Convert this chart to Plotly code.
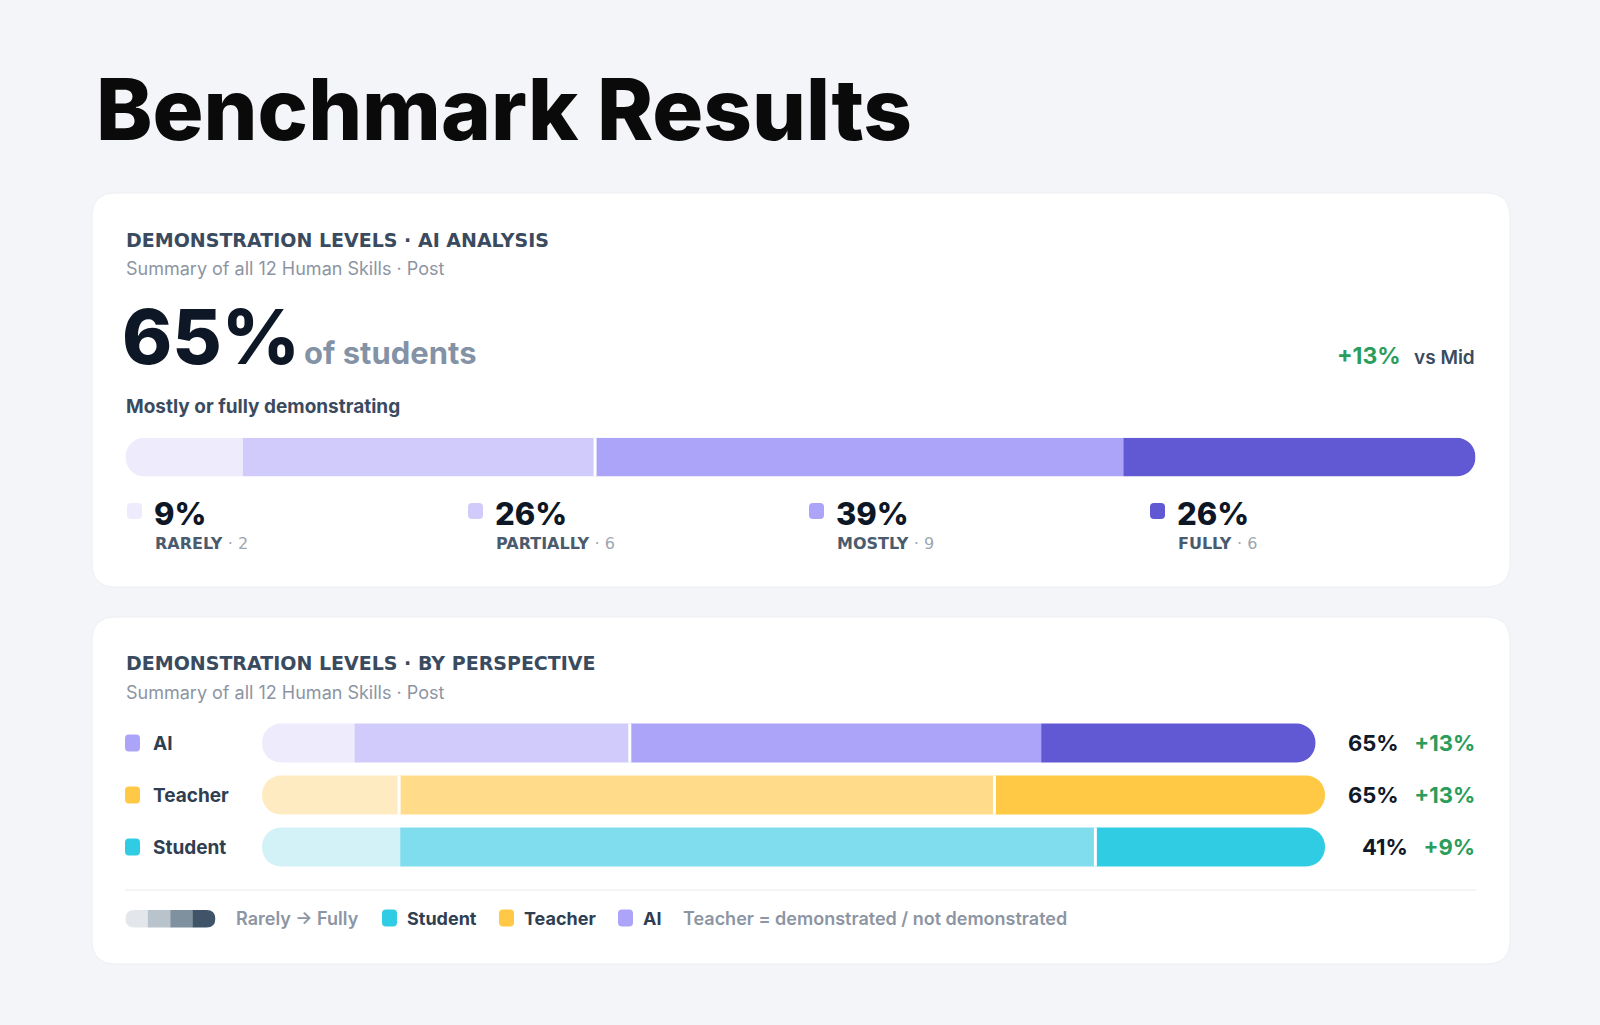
import plotly.graph_objects as go

W, H = 1600, 1025

# ---- data ----
levels = ["Rarely", "Partially", "Mostly", "Fully"]
ai_counts = [2, 6, 9, 6]            # skills per level, AI analysis, post
headline_pct = 65                   # mostly or fully demonstrating
delta_vs_mid = 13

perspectives = ["AI", "Teacher", "Student"]
ai_shares = [8.7, 25.9, 38.7, 25.8]
teacher_shares = [12.9, 56.0, 31.1]
student_shares = [13.0, 65.4, 21.6]
perspective_pct = [65, 65, 41]
perspective_delta = [13, 13, 9]

# ---- style ----
BG = "#F4F5F8"
INK = "#0E1726"
SLATE = "#3A4B5F"
GREY = "#8C95A3"
GREEN = "#2A9D5C"
FONT = "Inter"
CAPS = "DejaVu Sans"   # wide face stands in for the tracked caps

purple = ["#EEEBFD", "#D1CBFC", "#ABA4F9", "#6158D4"]
yellow = ["#FFEBC1", "#FFDB8A", "#FFC845"]
cyan = ["#D3F2F8", "#80DDEE", "#2FCCE3"]
row_colors = [purple, yellow, cyan]
row_swatch = ["#ABA4F9", "#FFC845", "#2FCCE3"]
row_gaps = [[1], [0, 1], [1]]       # white split after these segments


def X(x):
    return x / W


def Y(y):
    return 1 - y / H


def rounded_path(x0, y0, x1, y1, r, left=True, right=True):
    """Rounded rectangle in pixel coords -> svg path in paper coords."""
    rl = r if left else 0
    rr = r if right else 0
    pts = [
        f"M{X(x0 + rl)},{Y(y0)}",
        f"L{X(x1 - rr)},{Y(y0)}",
        f"Q{X(x1)},{Y(y0)} {X(x1)},{Y(y0 + rr)}",
        f"L{X(x1)},{Y(y1 - rr)}",
        f"Q{X(x1)},{Y(y1)} {X(x1 - rr)},{Y(y1)}",
        f"L{X(x0 + rl)},{Y(y1)}",
        f"Q{X(x0)},{Y(y1)} {X(x0)},{Y(y1 - rl)}",
        f"L{X(x0)},{Y(y0 + rl)}",
        f"Q{X(x0)},{Y(y0)} {X(x0 + rl)},{Y(y0)}",
        "Z",
    ]
    return " ".join(pts)


fig = go.Figure()


def add_box(x0, y0, x1, y1, r, fill, line=None, left=True, right=True):
    fig.add_shape(type="path", path=rounded_path(x0, y0, x1, y1, r, left, right),
                  xref="paper", yref="paper", layer="below", fillcolor=fill,
                  line=dict(color=line or fill, width=1 if line else 0))


def label(x, y, text, size, color, weight=400, anchor="left", family=FONT):
    fig.add_annotation(x=X(x), y=Y(y), xref="paper", yref="paper", text=text,
                       showarrow=False, xanchor=anchor, yanchor="middle", borderpad=0,
                       font=dict(family=family, size=size, color=color, weight=weight))


def add_stack(shares, colors, axis_n, px0, px1, py0, py1, width, gaps):
    """One rounded stacked bar on its own axis pair.
    The first level is drawn as a negative stack so both outer ends round off
    (barmode='relative'); the axis is shifted so the bar starts at px0."""
    sx = "" if axis_n == 1 else str(axis_n)
    xa, ya = "x" + sx, "y" + sx
    first = shares[0]
    for i, (v, c) in enumerate(zip(shares, colors)):
        fig.add_trace(go.Bar(
            x=[-v if i == 0 else v], y=[0], orientation="h", width=width,
            marker=dict(color=c, cornerradius="50%", line=dict(width=0)),
            xaxis=xa, yaxis=ya, hoverinfo="skip", showlegend=False))
    bounds = [sum(shares[:i + 1]) - first for i in range(len(shares))]
    for g in gaps:
        fig.add_shape(type="line", xref=xa, yref=ya, x0=bounds[g], x1=bounds[g],
                      y0=-width / 2, y1=width / 2, line=dict(color="white", width=3))
    fig.update_layout({
        "xaxis" + sx: dict(domain=[X(px0), X(px1)], range=[-first, 100 - first],
                           visible=False, fixedrange=True, anchor=ya),
        "yaxis" + sx: dict(domain=[Y(py1), Y(py0)], range=[-0.5, 0.5],
                           visible=False, fixedrange=True, anchor=xa),
    })


# ---- cards ----
add_box(92, 193, 1510, 587, 24, "white", "#ECEEF2")
add_box(92, 617, 1510, 964, 24, "white", "#ECEEF2")

label(95, 110, "Benchmark Results", 85, "#0A0A0A", 800)

# ---- card 1: AI analysis ----
label(125, 240, "DEMONSTRATION LEVELS · AI ANALYSIS", 19, SLATE, 700, family=CAPS)
label(125, 268, "Summary of all 12 Human Skills · Post", 18, GREY, 400)
label(121, 336, f"{headline_pct}%", 76, INK, 800)
label(303, 352, "of students", 31, "#8492A6", 700)
label(1476, 357, "vs Mid", 19, SLATE, 600, anchor="right")
label(1402, 356, f"+{delta_vs_mid}%", 23, GREEN, 700, anchor="right")
label(125, 406, "Mostly or fully demonstrating", 19, SLATE, 700)

total = sum(ai_counts)
shares = [c / total * 100 for c in ai_counts]
add_stack(shares, purple, 1, 125.5, 1475.5, 437.7, 476.5, 1.0, [1])

for i, (name, cnt, sh) in enumerate(zip(levels, ai_counts, shares)):
    x0 = 127 + i * 341
    add_box(x0, 503, x0 + 15, 519, 4, purple[i])
    label(x0 + 26, 513, f"{round(sh)}%", 31, INK, 800)
    label(x0 + 27, 543,
          f"{name.upper()}\u00a0<span style='color:#9EA6B1;font-weight:400'>·\u00a0{cnt}</span>",
          16, "#4B5B6E", 700, family=CAPS)

# ---- card 2: by perspective ----
label(125, 663, "DEMONSTRATION LEVELS · BY PERSPECTIVE", 19, SLATE, 700, family=CAPS)
label(125, 692, "Summary of all 12 Human Skills · Post", 18, GREY, 400)

row_shares = [ai_shares, teacher_shares, student_shares]
row_y = [743, 795, 847]
for r, name in enumerate(perspectives):
    yc = row_y[r]
    add_stack(row_shares[r], row_colors[r], r + 2, 262, 1325, yc - 26, yc + 26, 0.75, row_gaps[r])
    add_box(125, yc - 8.5, 140, yc + 8.5, 4, row_swatch[r])
    label(152, yc, name, 19, "#2F3E51", 700)
    label(1476, yc,
          f"{perspective_pct[r]}%\u00a0\u00a0\u00a0"
          f"<span style='color:{GREEN}'>+{perspective_delta[r]}%</span>",
          22, "#111827", 700, anchor="right")

fig.add_shape(type="line", xref="paper", yref="paper", layer="below",
              x0=X(125), x1=X(1476), y0=Y(890), y1=Y(890),
              line=dict(color="#EEF0F3", width=1.5))

# bottom legend
ramp = ["#E3E6EA", "#B9C3CB", "#7F909F", "#3F5468"]
for i, c in enumerate(ramp):
    bx = 125.5 + i * 22.4
    add_box(bx, 910, bx + 22.6, 927.5, 8.7, c, left=(i == 0), right=(i == len(ramp) - 1))
label(235, 918, "Rarely → Fully", 18, GREY, 600)
legend_items = [("Student", "#2FCCE3", 382), ("Teacher", "#FFC845", 499), ("AI", "#ABA4F9", 618)]
for name, col, lx in legend_items:
    add_box(lx, 909.5, lx + 15, 926.5, 4, col)
    label(lx + 24, 918, name, 18, "#2F3E51", 700)
label(682, 918, "Teacher = demonstrated / not demonstrated", 18, GREY, 600)

fig.update_layout(
    width=W, height=H,
    margin=dict(l=0, r=0, t=0, b=0),
    paper_bgcolor=BG, plot_bgcolor="rgba(0,0,0,0)",
    barmode="relative", showlegend=False, hovermode=False,
    font=dict(family=FONT),
)

fig.write_html("out.html", config={"displayModeBar": False},
               post_script="document.body.style.margin='0';")
